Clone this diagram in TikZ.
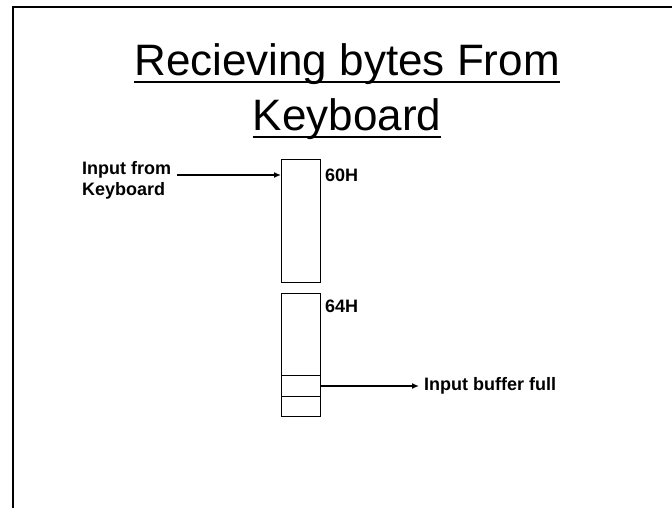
\documentclass[tikz,border=0pt]{standalone}
\usepackage{fontspec}
\setmainfont{Liberation Sans}
\usetikzlibrary{arrows.meta}

\tikzset{
  reg/.style={draw, line width=1pt, minimum width=39pt, inner sep=0pt, anchor=north west},
  lbl/.style={font=\bfseries\fontsize{18}{21}\selectfont, inner sep=0pt},
  headline/.style={font=\fontsize{44}{53}\selectfont, inner sep=0pt, anchor=base},
  feed/.style={line width=2pt, -{Latex[length=7pt,width=6pt]}},
}

\begin{document}
\begin{tikzpicture}[x=1pt, y=-1pt]
        \useasboundingbox (0,0) rectangle (672,508);
        \draw[line width=2pt] (13,508) -- (13,7.5) -- (672,7.5);
        % Title
        \node[headline] (head1) at (347,76) {Recieving bytes From};
        \node[headline] (head2) at (347,131) {Keyboard};
        \draw[line width=1.6pt] ([yshift=-6pt]head1.base west) -- ([yshift=-6pt]head1.base east);
        \draw[line width=1.6pt] ([yshift=-6pt]head2.base west) -- ([yshift=-6pt]head2.base east);
        % Ports
        \node[reg, minimum height=123pt] (port60) at (281,159) {};
        \node[reg, minimum height=82pt] (port64) at (281,293) {};
        \node[reg, minimum height=21pt] (ibf) at (281,375) {};
        \node[reg, minimum height=20pt] (spare) at (281,396) {};
        \node[lbl, anchor=base west] (lbl60) at (325,181) {60H};
        \node[lbl, anchor=base west] (lbl64) at (325,312) {64H};
        \node[lbl, align=left, anchor=north west] (kbd) at (82,161) {Input from\\Keyboard};
        \node[lbl, anchor=base west] (ibftext) at (424,390) {Input buffer full};
        % Arrows
        \coordinate (kbdout) at (177,175);
        \draw[feed] (kbdout) -- (kbdout -| port60.west);
        \draw[feed, shorten >=5pt] (ibf.east) -- (ibftext.west |- ibf.east);
      \end{tikzpicture}
\end{document}
